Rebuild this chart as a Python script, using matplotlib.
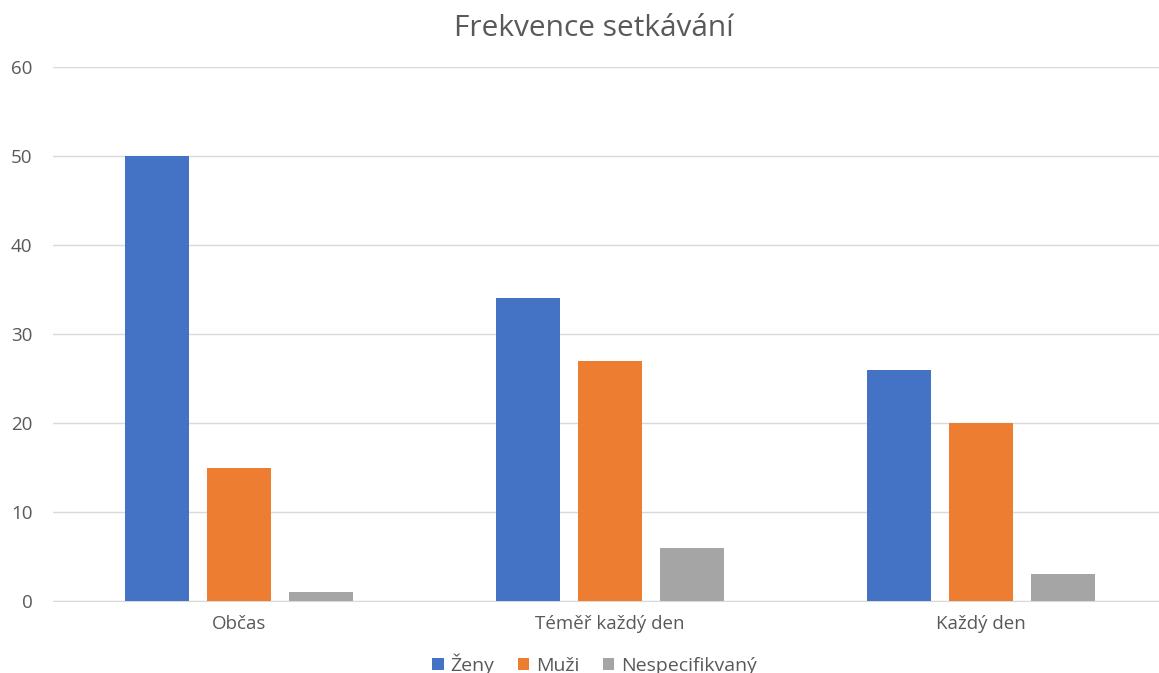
import numpy as np
import matplotlib.pyplot as plt

plt.rcParams['font.family'] = ['Open Sans', 'DejaVu Sans']

# data
kategorie = ['Občas', 'Téměř každý den', 'Každý den']
zeny = [50, 34, 26]
muzi = [15, 27, 20]
nespec = [1, 6, 3]

serie = [('Ženy', zeny, '#4472C4'),
         ('Muži', muzi, '#ED7D31'),
         ('Nespecifikvaný', nespec, '#A5A5A5')]

fig = plt.figure(figsize=(11.59, 6.73), dpi=100)
ax = fig.add_axes([0.0461, 0.107, 0.9603, 0.7933])

x = np.arange(len(kategorie))
sirka = 0.1725
krok = 0.221
for i, (nazev, hodnoty, barva) in enumerate(serie):
    ax.bar(x + (i - 1) * krok, hodnoty, sirka, color=barva, label=nazev, zorder=3)

ax.set_xlim(-0.5, 2.5)
ax.set_ylim(0, 60)
ax.set_yticks(range(0, 61, 10))
ax.set_xticks(x)
ax.set_xticklabels(kategorie)
ax.grid(axis='y', color='#D9D9D9', linewidth=1, zorder=0)
for s in ['top', 'right', 'left']:
    ax.spines[s].set_visible(False)
ax.spines['bottom'].set_color('#D9D9D9')
ax.tick_params(length=0, labelsize=13.5, labelcolor='#595959')
ax.tick_params(axis='y', pad=15)
ax.tick_params(axis='x', pad=10)

fig.text(0.512, 0.958, 'Frekvence setkávání', ha='center', va='center',
         fontsize=21.5, color='#595959')

fig.legend(loc='center', bbox_to_anchor=(0.513, 0.013), ncol=3, frameon=False,
           fontsize=14, labelcolor='#595959', handlelength=0.6, handleheight=0.6,
           handletextpad=0.35, columnspacing=1.2)

fig.savefig('out.png', dpi=100)
